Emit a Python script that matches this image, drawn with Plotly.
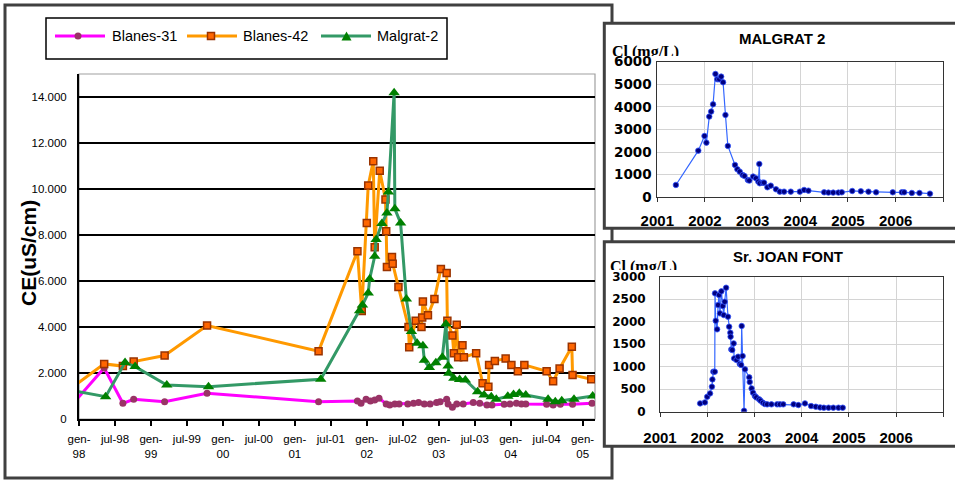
import plotly.graph_objects as go

W, H = 955, 481

# ---------------- Electrical conductivity, CE (uS/cm), decimal years ----------------
b31_t = [1997.92, 1998.35, 1998.61, 1998.76, 1999.19, 1999.78, 2001.33, 2001.87, 2001.92, 2001.99,
         2002.05, 2002.11, 2002.17, 2002.27, 2002.32, 2002.39, 2002.45, 2002.57, 2002.65, 2002.72,
         2002.80, 2002.88, 2002.97, 2003.02, 2003.11, 2003.13, 2003.19, 2003.25, 2003.34, 2003.48,
         2003.57, 2003.67, 2003.74, 2003.91, 2003.99, 2004.08, 2004.15, 2004.21, 2004.50, 2004.59,
         2004.69, 2004.86, 2005.13, 2005.24]
b31_v = [683, 2220, 683, 858, 754, 1119, 754, 784, 683, 858,
         784, 828, 901, 654, 610, 654, 654, 654, 683, 712,
         654, 654, 712, 754, 858, 654, 510, 654, 654, 712,
         683, 610, 610, 639, 654, 683, 654, 654, 639, 610,
         639, 639, 683, 754]

b42_t = [1997.92, 1998.35, 1998.61, 1998.76, 1999.19, 1999.78, 2001.33, 2001.87, 2001.93, 2002.00,
         2002.02, 2002.09, 2002.11, 2002.18, 2002.26, 2002.27, 2002.28, 2002.35, 2002.36, 2002.44,
         2002.58, 2002.59, 2002.68, 2002.76, 2002.77, 2002.78, 2002.85, 2002.94, 2003.03, 2003.11,
         2003.12, 2003.19, 2003.21, 2003.25, 2003.27, 2003.33, 2003.35, 2003.52, 2003.61, 2003.69,
         2003.70, 2003.78, 2003.93, 2004.01, 2004.10, 2004.19, 2004.50, 2004.59, 2004.68, 2004.85,
         2004.86, 2005.12, 2005.24]
b42_v = [1407, 2396, 2300, 2497, 2758, 4065, 2950, 7290, 4700, 8526,
         10152, 11211, 7470, 10790, 9542, 8162, 6609, 7045, 6753, 5738,
         3995, 3124, 4270, 3995, 4414, 5111, 4516, 5215, 6522, 6348,
         4270, 3630, 2863, 4096, 2688, 3211, 2688, 2863, 1555, 1407,
         2353, 2527, 2627, 2353, 2078, 2353, 2078, 1643, 2192, 3137,
         1917, 1730, 1669]

mal_t = [1997.92, 1998.37, 1998.64, 1998.78, 1999.22, 1999.80, 2001.36, 2001.90, 2001.94, 2002.02,
         2002.04, 2002.11, 2002.13, 2002.21, 2002.28, 2002.30, 2002.38, 2002.39, 2002.47, 2002.55,
         2002.62, 2002.70, 2002.78, 2002.80, 2002.87, 2002.96, 2003.05, 2003.10, 2003.13, 2003.14,
         2003.21, 2003.29, 2003.37, 2003.54, 2003.63, 2003.73, 2003.80, 2003.96, 2004.04, 2004.12,
         2004.21, 2004.52, 2004.62, 2004.71, 2004.88, 2005.14, 2005.24]
mal_v = [1233, 972, 2453, 2279, 1481, 1407, 1730, 4706, 4954, 5477,
         6087, 7071, 7799, 8500, 8960, 9870, 14190, 9137, 8526, 5215,
         3805, 3298, 3181, 2550, 2235, 2450, 2688, 4130, 2309, 1991,
         1773, 1715, 1699, 1190, 1046, 972, 858, 990, 1070, 1119,
         1046, 858, 754, 797, 858, 1002, 1002]

main_tick_vals = [1998 + 0.5 * i for i in range(15)]
main_tick_text = ["gen-<br>98", "jul-98", "gen-<br>99", "jul-99", "gen-<br>00", "jul-00",
                  "gen-<br>01", "jul-01", "gen-<br>02", "jul-02", "gen-<br>03", "jul-03",
                  "gen-<br>04", "jul-04", "gen-<br>05"]
ce_tick_vals = [0, 2000, 4000, 6000, 8000, 10000, 12000, 14000]
ce_tick_text = ["0", "2.000", "4.000", "6.000", "8.000", "10.000", "12.000", "14.000"]

# ---------------- Chloride, Cl (mg/L) ----------------
malgrat_t = [2001.39, 2001.86, 2001.99, 2002.03, 2002.09, 2002.13, 2002.17, 2002.22, 2002.26, 2002.30,
             2002.34, 2002.38, 2002.43, 2002.48, 2002.63, 2002.68, 2002.73, 2002.79, 2002.83, 2002.90,
             2002.93, 2003.01, 2003.07, 2003.12, 2003.14, 2003.15, 2003.21, 2003.24, 2003.31, 2003.38,
             2003.49, 2003.57, 2003.66, 2003.80, 2003.99, 2004.08, 2004.17, 2004.50, 2004.59, 2004.69,
             2004.80, 2004.87, 2005.09, 2005.27, 2005.43, 2005.59, 2005.94, 2006.13, 2006.18, 2006.34,
             2006.50, 2006.72]
malgrat_cl = [546, 2065, 2714, 2419, 3570, 3791, 4115, 5458, 5222, 5222,
              5340, 5089, 3643, 2272, 1431, 1239, 1136, 988, 944, 767,
              738, 915, 841, 693, 1475, 620, 649, 649, 443, 516,
              354, 251, 251, 251, 251, 325, 295, 221, 207, 207,
              207, 221, 280, 265, 251, 221, 221, 221, 221, 192,
              192, 162]

joan_t = [2001.85, 2001.95, 2002.00, 2002.06, 2002.10, 2002.11, 2002.13, 2002.16, 2002.165, 2002.18,
          2002.21, 2002.23, 2002.25, 2002.27, 2002.30, 2002.33, 2002.35, 2002.37, 2002.40, 2002.44,
          2002.465, 2002.49, 2002.495, 2002.51, 2002.53, 2002.56, 2002.57, 2002.62, 2002.655, 2002.69,
          2002.72, 2002.73, 2002.75, 2002.78, 2002.80, 2002.89, 2002.90, 2002.94, 2002.97, 2003.01,
          2003.04, 2003.10, 2003.13, 2003.18, 2003.22, 2003.27, 2003.36, 2003.48, 2003.54, 2003.61,
          2003.83, 2003.93, 2004.07, 2004.20, 2004.30, 2004.39, 2004.47, 2004.57, 2004.67, 2004.78,
          2004.87]
joan_cl = [185, 207, 333, 407, 556, 718, 889, 889, 2630, 2022,
           1830, 2370, 2593, 2185, 2674, 2348, 2148, 2444, 2755, 2111,
           1889, 1755, 1667, 1385, 1370, 1518, 1185, 1148, 1222, 1059,
           1037, 1904, 1237, 22, 941, 763, 659, 518, 422, 348,
           318, 274, 244, 200, 170, 163, 163, 163, 163, 163,
           163, 148, 185, 126, 111, 96, 89, 89, 89, 89,
           89]

year_ticks = [2001, 2002, 2003, 2004, 2005, 2006]


def xd(a, b):
    return [a / W, b / W]


def yd(top, bottom):
    return [1 - bottom / H, 1 - top / H]


def px(x):
    return x / W


def py(y):
    return 1 - y / H


fig = go.Figure()

# ---- conductivity series ----
fig.add_trace(go.Scatter(
    x=b31_t, y=b31_v, mode="lines+markers", name="Blanes-31",
    line=dict(color="#FF00FF", width=3),
    marker=dict(symbol="circle", size=7, color="#993366"),
    xaxis="x", yaxis="y", hoverinfo="skip"))
fig.add_trace(go.Scatter(
    x=b42_t, y=b42_v, mode="lines+markers", name="Blanes-42",
    line=dict(color="#FF9900", width=3),
    marker=dict(symbol="square", size=7, color="#FF6600", line=dict(color="#993300", width=1.5)),
    xaxis="x", yaxis="y", hoverinfo="skip"))
fig.add_trace(go.Scatter(
    x=mal_t, y=mal_v, mode="lines+markers", name="Malgrat-2",
    line=dict(color="#339966", width=3),
    marker=dict(symbol="triangle-up", size=10, color="#008000"),
    xaxis="x", yaxis="y", hoverinfo="skip"))

# ---- chloride panels ----
cl_line = dict(color="#3366FF", width=1.2)
cl_marker = dict(size=5.5, color="#000080", line=dict(color="#3355FF", width=0.8))
fig.add_trace(go.Scatter(x=malgrat_t, y=malgrat_cl, mode="lines+markers", line=cl_line,
                         marker=cl_marker, xaxis="x2", yaxis="y2", hoverinfo="skip"))
fig.add_trace(go.Scatter(x=joan_t, y=joan_cl, mode="lines+markers", line=cl_line,
                         marker=cl_marker, xaxis="x3", yaxis="y3", hoverinfo="skip"))

# ---- partially hidden unit labels of the chloride panels ----
unit_font = dict(family="Liberation Serif", size=16, color="black", weight="bold")
fig.add_trace(go.Scatter(x=[0], y=[0.18], mode="text", text=["Cl (mg/L)"],
                         textposition="middle right", textfont=unit_font, cliponaxis=True,
                         xaxis="x4", yaxis="y4", hoverinfo="skip"))
fig.add_trace(go.Scatter(x=[0], y=[0.13], mode="text", text=["Cl (mg/L)"],
                         textposition="middle right", textfont=unit_font, cliponaxis=True,
                         xaxis="x5", yaxis="y5", hoverinfo="skip"))

main_font = dict(family="Liberation Sans", size=11.5, color="black")
inset_x_font = dict(family="Liberation Sans", size=15, color="black", weight="bold")

fig.update_layout(
    template="none",
    width=W, height=H, margin=dict(l=0, r=0, t=0, b=0, pad=0, autoexpand=False),
    paper_bgcolor="white", plot_bgcolor="rgba(0,0,0,0)",
    showlegend=False,
    xaxis=dict(domain=xd(79, 595), range=[1998, 2005.172], tickvals=main_tick_vals,
               ticktext=main_tick_text, ticks="outside", ticklen=5, tickwidth=1.5,
               tickcolor="black", showline=True, linecolor="black", linewidth=2,
               showgrid=False, zeroline=False, tickfont=main_font, ticklabelstandoff=3,
               anchor="y", automargin=False),
    yaxis=dict(domain=yd(74, 419), range=[0, 15000], tickvals=ce_tick_vals,
               ticktext=ce_tick_text, ticks="", showline=True, linecolor="black", linewidth=2,
               showgrid=True, gridcolor="black", gridwidth=1.5, zeroline=False,
               tickfont=main_font, ticklabelstandoff=8, anchor="x", automargin=False),
    xaxis2=dict(domain=xd(657.3, 943.3), range=[2001, 2007], tickvals=year_ticks + [2007],
                ticktext=[str(y) for y in year_ticks] + [""], ticks="outside", ticklen=4,
                tickcolor="#333333", showline=True, mirror=True, linecolor="#333333", linewidth=1,
                showgrid=True, gridcolor="#d4d4d4", gridwidth=1.2, zeroline=False,
                tickfont=inset_x_font, ticklabelstandoff=6, anchor="y2", automargin=False),
    yaxis2=dict(domain=yd(61.7, 197.3), range=[0, 6000], dtick=1000, ticks="",
                showline=True, mirror=True, linecolor="#333333", linewidth=1,
                showgrid=True, gridcolor="#d4d4d4", gridwidth=1.2, zeroline=False,
                tickfont=dict(family="DejaVu Sans", size=13.5, color="black", weight="bold"),
                ticklabelstandoff=2, anchor="x2", automargin=False),
    xaxis3=dict(domain=xd(660, 943.3), range=[2001, 2007], tickvals=year_ticks + [2007],
                ticktext=[str(y) for y in year_ticks] + [""], ticks="outside", ticklen=4,
                tickcolor="#333333", showline=True, mirror=True, linecolor="#333333", linewidth=1,
                showgrid=True, gridcolor="#d4d4d4", gridwidth=1.2, zeroline=False,
                tickfont=inset_x_font, ticklabelstandoff=8, anchor="y3", automargin=False),
    yaxis3=dict(domain=yd(276.7, 411.7), range=[0, 3000], dtick=500, ticks="",
                showline=True, mirror=True, linecolor="#333333", linewidth=1,
                showgrid=True, gridcolor="#d4d4d4", gridwidth=1.2, zeroline=False,
                tickfont=dict(family="DejaVu Sans", size=12, color="black", weight="bold"),
                ticklabelstandoff=11, anchor="x3", automargin=False),
    xaxis4=dict(domain=xd(612, 720), range=[0, 1], visible=False, anchor="y4", automargin=False),
    yaxis4=dict(domain=yd(38, 56), range=[0, 1], visible=False, anchor="x4", automargin=False),
    xaxis5=dict(domain=xd(610, 720), range=[0, 1], visible=False, anchor="y5", automargin=False),
    yaxis5=dict(domain=yd(254, 270), range=[0, 1], visible=False, anchor="x5", automargin=False),
)

frame = "#404040"
shapes = [
    # outer frame of the conductivity chart
    dict(type="rect", xref="paper", yref="paper", x0=px(5), x1=px(612), y0=py(5), y1=py(478),
         line=dict(color=frame, width=3), fillcolor="rgba(0,0,0,0)", layer="below"),
    # plot-area border
    dict(type="rect", xref="paper", yref="paper", x0=px(79), x1=px(595), y0=py(74), y1=py(419),
         line=dict(color="#A0A0A0", width=1.2), fillcolor="rgba(0,0,0,0)", layer="below"),
    # legend box
    dict(type="rect", xref="paper", yref="paper", x0=px(46), x1=px(447), y0=py(18), y1=py(59),
         line=dict(color="black", width=1.5), fillcolor="white", layer="below"),
    # chloride panel boxes
    dict(type="rect", xref="paper", yref="paper", x0=px(604.3), x1=px(962), y0=py(23.3), y1=py(228.3),
         line=dict(color=frame, width=3), fillcolor="white", layer="below"),
    dict(type="rect", xref="paper", yref="paper", x0=px(604.3), x1=px(962), y0=py(241.7), y1=py(446.3),
         line=dict(color=frame, width=3), fillcolor="white", layer="below"),
]

# legend keys
ly = 36
keys = [(55, "#FF00FF"), (187, "#FF9900"), (321, "#339966")]
for x0, col in keys:
    shapes.append(dict(type="line", xref="paper", yref="paper", x0=px(x0), x1=px(x0 + 50),
                       y0=py(ly), y1=py(ly), line=dict(color=col, width=3)))
shapes.append(dict(type="circle", xref="paper", yref="paper", x0=px(74.5), x1=px(81.5),
                   y0=py(ly - 3.5), y1=py(ly + 3.5), fillcolor="#993366", line=dict(width=0)))
shapes.append(dict(type="rect", xref="paper", yref="paper", x0=px(207.5), x1=px(214.5),
                   y0=py(ly - 3.5), y1=py(ly + 3.5), fillcolor="#FF6600",
                   line=dict(color="#993300", width=1.5)))
tri = "M {} {} L {} {} L {} {} Z".format(px(341.5), py(ly + 4.5), px(351.5), py(ly + 4.5),
                                          px(346.5), py(ly - 4.5))
shapes.append(dict(type="path", xref="paper", yref="paper", path=tri, fillcolor="#008000",
                   line=dict(width=0)))
fig.update_layout(shapes=shapes)

legend_font = dict(family="Liberation Sans", size=14.5, color="black")
annotations = [
    dict(text="Blanes-31", x=px(110), y=py(ly), xanchor="left", yanchor="middle", font=legend_font),
    dict(text="Blanes-42", x=px(241), y=py(ly), xanchor="left", yanchor="middle", font=legend_font),
    dict(text="Malgrat-2", x=px(375), y=py(ly), xanchor="left", yanchor="middle", font=legend_font),
    dict(text="CE(uS/cm)", x=px(28.5), y=py(253.5), textangle=-90, xanchor="center",
         yanchor="middle", font=dict(family="Liberation Sans", size=21, color="black", weight="bold")),
    dict(text="MALGRAT 2", x=px(781.7), y=py(38.3), xanchor="center", yanchor="middle",
         font=dict(family="Liberation Sans", size=15, color="black", weight="bold")),
    dict(text="Sr. JOAN FONT", x=px(788.3), y=py(256.7), xanchor="center", yanchor="middle",
         font=dict(family="Liberation Sans", size=15, color="black", weight="bold")),
]
for a in annotations:
    a.update(xref="paper", yref="paper", showarrow=False)
fig.update_layout(annotations=annotations)

fig.write_html("out.html")
